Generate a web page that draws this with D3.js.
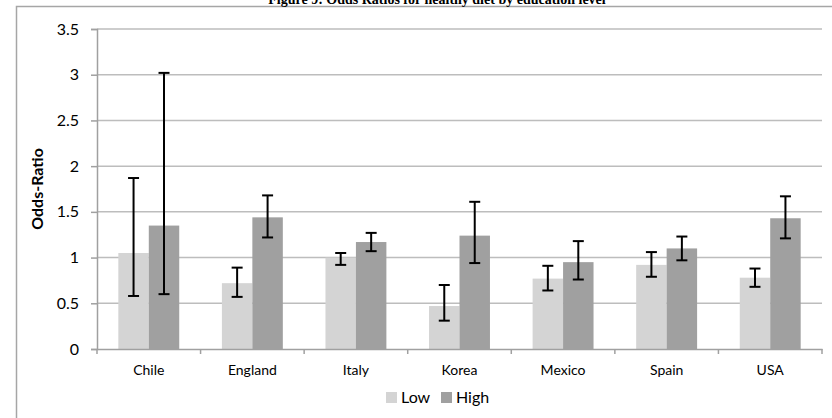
<!DOCTYPE html>
<html>
<head>
<meta charset="utf-8">
<script src="https://cdn.jsdelivr.net/npm/d3@7"></script>
<style>
  html, body { margin: 0; padding: 0; background: #fff; }
  svg { display: block; }
</style>
</head>
<body>
<svg id="chart" width="832" height="418"></svg>
<script>
const title = "Figure 9: Odds Ratios for healthy diet by education level";
const categories = ["Chile", "England", "Italy", "Korea", "Mexico", "Spain", "USA"];
const seriesNames = ["Low", "High"];
const lowValues  = [1.05, 0.72, 1.00, 0.47, 0.77, 0.92, 0.78];
const lowLower   = [0.58, 0.57, 0.92, 0.31, 0.64, 0.79, 0.68];
const lowUpper   = [1.87, 0.89, 1.05, 0.70, 0.91, 1.06, 0.88];
const highValues = [1.35, 1.44, 1.17, 1.24, 0.95, 1.10, 1.43];
const highLower  = [0.60, 1.22, 1.07, 0.94, 0.76, 0.97, 1.21];
const highUpper  = [3.02, 1.68, 1.27, 1.61, 1.18, 1.23, 1.67];
const yTicks = [0, 0.5, 1, 1.5, 2, 2.5, 3, 3.5];
const yLabel = "Odds-Ratio";

const colors = { Low: "#d4d4d4", High: "#a0a0a0" };

const rows = [];
categories.forEach((c, i) => {
  rows.push({ cat: c, s: "Low", v: lowValues[i], lo: lowLower[i], hi: lowUpper[i] });
  rows.push({ cat: c, s: "High", v: highValues[i], lo: highLower[i], hi: highUpper[i] });
});

const svg = d3.select("#chart");
const mLeft = 97, mRight = 822, mTop = 29, mBottom = 349;

const x0 = d3.scaleBand().domain(categories).range([mLeft, mRight]).padding(0);
const x1 = d3.scaleBand().domain(seriesNames).range([0, x0.bandwidth()]).paddingInner(0).paddingOuter(0.7);
const y = d3.scaleLinear().domain([0, 3.5]).range([mBottom, mTop]);

// outer border (chart area)
svg.append("path")
  .attr("d", "M16.5,418 L16.5,6.5 L832,6.5")
  .attr("fill", "none").attr("stroke", "#a6a6a6").attr("stroke-width", 1.5);

// title (clipped at top, as in the reference)
svg.append("text")
  .attr("x", 437).attr("y", 3.5)
  .attr("text-anchor", "middle")
  .attr("font-family", "Liberation Serif, Times New Roman, serif")
  .attr("font-weight", "bold").attr("font-size", 14)
  .attr("fill", "#000")
  .text(title);

// gridlines
svg.append("g").selectAll("line").data(yTicks.filter(t => t > 0)).join("line")
  .attr("x1", mLeft).attr("x2", mRight)
  .attr("y1", d => y(d)).attr("y2", d => y(d))
  .attr("stroke", "#bdbdbd").attr("stroke-width", 1.5);

// y axis
const yAxis = d3.axisLeft(y).tickValues(yTicks).tickSize(6).tickPadding(12).tickFormat(d3.format("~g"));
const gy = svg.append("g").attr("transform", `translate(${mLeft},0)`).call(yAxis);
gy.select(".domain").attr("stroke", "#a0a0a0").attr("stroke-width", 1.5);
gy.selectAll(".tick line").attr("stroke", "#a0a0a0").attr("stroke-width", 1.5);
gy.selectAll(".tick text").attr("font-family", "Lato, sans-serif").attr("font-size", 16).attr("fill", "#000");

// bars
svg.append("g").selectAll("rect").data(rows).join("rect")
  .attr("x", d => x0(d.cat) + x1(d.s))
  .attr("width", x1.bandwidth())
  .attr("y", d => y(d.v))
  .attr("height", d => y(0) - y(d.v))
  .attr("fill", d => colors[d.s]);

// x axis
const xAxis = d3.axisBottom(x0).tickSize(0).tickPadding(16);
const gx = svg.append("g").attr("transform", `translate(0,${mBottom})`).call(xAxis);
gx.select(".domain").attr("stroke", "#a0a0a0").attr("stroke-width", 1.5);
gx.selectAll(".tick text").attr("font-family", "Lato, sans-serif").attr("font-size", 14).attr("fill", "#000");
// category boundary ticks
const bounds = categories.map(c => x0(c)).concat([mRight]);
gx.append("g").selectAll("line").data(bounds).join("line")
  .attr("x1", d => d).attr("x2", d => d).attr("y1", 0).attr("y2", 5)
  .attr("stroke", "#a0a0a0").attr("stroke-width", 1.5);

// error bars
const cap = 5.5;
const eg = svg.append("g").attr("stroke", "#000").attr("stroke-width", 2).attr("fill", "none");
rows.forEach(d => {
  const cx = x0(d.cat) + x1(d.s) + x1.bandwidth() / 2;
  eg.append("line").attr("x1", cx).attr("x2", cx).attr("y1", y(d.lo)).attr("y2", y(d.hi));
  eg.append("line").attr("x1", cx - cap).attr("x2", cx + cap).attr("y1", y(d.lo)).attr("y2", y(d.lo));
  eg.append("line").attr("x1", cx - cap).attr("x2", cx + cap).attr("y1", y(d.hi)).attr("y2", y(d.hi));
});

// y label
svg.append("text")
  .attr("transform", `translate(43,189) rotate(-90)`)
  .attr("text-anchor", "middle")
  .attr("font-family", "Lato, sans-serif").attr("font-weight", "bold").attr("font-size", 16)
  .attr("fill", "#000")
  .text(yLabel);

// legend
const legendPos = { Low: 386, High: 441 };
const lg = svg.append("g");
seriesNames.forEach(s => {
  lg.append("rect").attr("x", legendPos[s]).attr("y", 392).attr("width", 11).attr("height", 11).attr("fill", colors[s]);
  lg.append("text").attr("x", legendPos[s] + 15).attr("y", 403)
    .attr("font-family", "Lato, sans-serif").attr("font-size", 16).attr("fill", "#000")
    .text(s);
});
</script>
</body>
</html>
